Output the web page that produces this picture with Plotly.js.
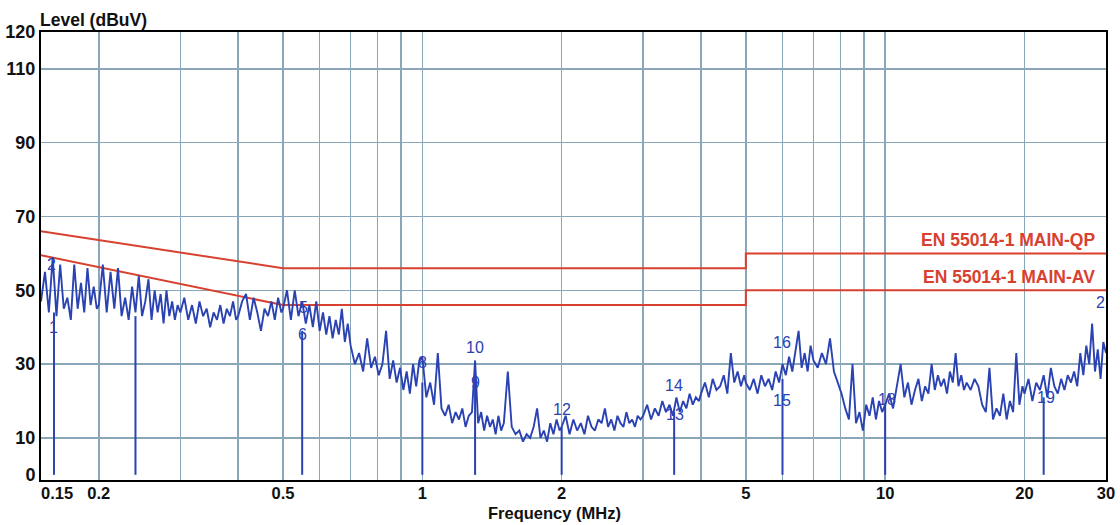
<!DOCTYPE html>
<html>
<head>
<meta charset="utf-8">
<script src="https://cdn.plot.ly/plotly-3.0.1.min.js"></script>
<style>
html,body{margin:0;padding:0;background:#fff;}
#chart{width:1120px;height:525px;}
</style>
</head>
<body>
<div id="chart"></div>
<script>
// ---- spectrum sweep (MHz) ----
var freqMHz = [
  0.150,0.153,0.156,0.159,0.162,0.165,0.168,0.171,0.174,0.177,0.180,0.183,0.186,0.189,0.192,0.195,0.198,
  0.200,0.204,0.208,0.212,0.216,0.220,0.224,0.228,0.232,0.236,0.240,0.244,0.248,0.252,0.256,0.260,0.264,0.268,0.272,0.276,0.280,0.284,0.288,0.292,0.296,
  0.300,0.306,0.312,0.318,0.324,0.330,0.336,0.342,0.348,0.354,0.360,0.366,0.372,0.378,0.384,0.390,0.396,
  0.400,0.408,0.416,0.424,0.432,0.440,0.448,0.456,0.464,0.472,0.480,0.488,0.496,
  0.50,0.51,0.52,0.53,0.54,0.55,0.56,0.57,0.58,0.59,0.60,0.61,0.62,0.63,0.64,0.65,0.66,0.67,0.68,0.69,
  0.700,0.715,0.730,0.745,0.760,0.775,0.790,0.805,0.820,0.835,0.850,0.865,0.880,0.895,0.910,0.925,0.940,0.955,0.970,0.985,
  1.00,1.02,1.04,1.06,1.08,1.10,1.12,1.14,1.16,1.18,1.20,1.22,1.24,1.26,1.28,1.30,1.32,1.34,1.36,1.38,1.40,1.42,1.44,1.46,1.48,
  1.50,1.53,1.56,1.59,1.62,1.65,1.68,1.71,1.74,1.77,1.80,1.83,1.86,1.89,1.92,1.95,1.98,
  2.00,2.04,2.08,2.12,2.16,2.20,2.24,2.28,2.32,2.36,2.40,2.44,2.48,2.52,2.56,2.60,2.64,2.68,2.72,2.76,2.80,2.84,2.88,2.92,2.96,
  3.00,3.06,3.12,3.18,3.24,3.30,3.36,3.42,3.48,3.54,3.60,3.66,3.72,3.78,3.84,3.90,3.96,
  4.00,4.08,4.16,4.24,4.32,4.40,4.48,4.56,4.64,4.72,4.80,4.88,4.96,
  5.0,5.1,5.2,5.3,5.4,5.5,5.6,5.7,5.8,5.9,6.0,6.1,6.2,6.3,6.4,6.5,6.6,6.7,6.8,6.9,
  7.00,7.15,7.30,7.45,7.60,7.75,7.90,8.05,8.20,8.35,8.50,8.65,8.80,8.95,9.10,9.25,9.40,9.55,9.70,9.85,
  10.0,10.2,10.4,10.6,10.8,11.0,11.2,11.4,11.6,11.8,12.0,12.2,12.4,12.6,12.8,13.0,13.2,13.4,13.6,13.8,14.0,14.2,14.4,14.6,14.8,
  15.0,15.3,15.6,15.9,16.2,16.5,16.8,17.1,17.4,17.7,18.0,18.3,18.6,18.9,19.2,19.5,19.8,
  20.0,20.4,20.8,21.2,21.6,22.0,22.4,22.8,23.2,23.6,24.0,24.4,24.8,25.2,25.6,26.0,26.4,26.8,27.2,27.6,28.0,28.4,28.8,29.2,29.6,30.0
];
// ---- measured level (dBuV) ----
var levelDbuV = [
  47,55,44,59,43,57,45,48,42,57,45,52,44,56,46,51,45,
  46,57,44,55,45,56,43,48,42,51,44,54,43,47,53,42,50,44,49,41,50,43,47,42,46,
  44,48,42,46,41,47,43,45,40,44,42,46,41,45,43,47,42,
  43,47,49,42,48,44,39,45,43,47,42,48,44,
  45,50,42,50,43,47,41,46,40,47,39,44,38,43,37,42,38,45,36,41,
  35,30,33,28,37,29,32,27,30,39,26,31,25,29,23,28,22,30,24,31,
  32,21,25,19,33,18,16,19,14,17,15,18,13,16,17,31,14,17,12,16,13,15,11,16,12,
  14,28,13,11,12,9,11,10,13,18,10,12,9,14,11,15,12,
  13,16,11,15,12,14,11,16,13,12,15,14,18,13,15,12,16,14,13,17,14,15,13,16,15,
  16,19,15,18,16,20,17,19,16,21,17,20,18,22,19,21,20,
  22,25,21,26,23,24,27,22,33,25,28,24,27,
  25,23,26,22,27,24,26,23,28,25,30,27,32,28,34,39,29,33,28,35,
  31,29,33,30,37,28,25,22,18,15,30,14,17,12,19,16,21,15,20,17,
  19,22,18,24,30,21,25,19,23,26,20,24,22,30,23,27,24,26,22,28,25,33,24,27,23,
  25,23,26,24,19,17,29,15,18,16,22,15,20,17,33,19,24,
  22,26,20,25,23,27,21,29,24,22,26,23,27,25,28,24,33,27,35,30,41,28,34,26,36,33
];
// ---- limit lines ----
var qpFreq = [0.15, 0.5, 5, 5, 30];
var qpLevel = [66, 56, 56, 60, 60];
var avFreq = [0.15, 0.5, 5, 5, 30];
var avLevel = [59.5, 46, 46, 50, 50];
var qpName = 'EN 55014-1 MAIN-QP';
var avName = 'EN 55014-1 MAIN-AV';
// ---- marker stems ----
var stemFreq = [0.16, 0.24, 0.55, 1.0, 1.3, 2.0, 3.5, 6.0, 10.0, 22.0];
var stemLevel = [44, 43, 39, 25, 26, 13, 17, 26, 19, 21];
// ---- marker numbers ----
var markText = ['1','2','5','6','8','10','9','12','14','13','16','15','18','19','2'];
var markFreq = [0.16,0.158,0.553,0.55,1.0,1.3,1.3,2.0,3.5,3.52,6.0,6.0,10.1,22.3,29.2];
var markLevel = [40,57,45.3,38,30.4,34.5,25,17.7,24.2,16.3,35.9,20.2,20.4,20.9,46.7];
// ---- axis ticks ----
var xTickVals = [0.15,0.2,0.5,1,2,5,10,20,30];
var xTickText = ['\u00a0\u00a0\u00a0\u00a0\u00a0\u00a0\u00a00.15','0.2','0.5','1','2','5','10','20','30'];
var xMinorGrid = [0.3,0.4,0.6,0.7,0.8,0.9,3,4,6,7,8,9];
var yTickVals = [0,10,30,50,70,90,110,120];
var yGrid = [10,30,50,70,90,110];

var BLUE = '#2a42b2';
var RED = '#d8402f';
var GRID = '#8aa7ba';
var FONT = 'Arial, "Liberation Sans", sans-serif';

var stemX = [], stemY = [];
for (var i = 0; i < stemFreq.length; i++) {
  stemX.push(stemFreq[i], stemFreq[i], null);
  stemY.push(0, stemLevel[i], null);
}

var traces = [
  {x: qpFreq, y: qpLevel, mode: 'lines', line: {color: RED, width: 2}, hoverinfo: 'skip'},
  {x: avFreq, y: avLevel, mode: 'lines', line: {color: RED, width: 2}, hoverinfo: 'skip'},
  {x: stemX, y: stemY, mode: 'lines', line: {color: BLUE, width: 2}, connectgaps: false, hoverinfo: 'skip'},
  {x: freqMHz, y: levelDbuV, mode: 'lines', line: {color: BLUE, width: 1.9}, hoverinfo: 'skip'}
];

var annotations = [
  {xref: 'paper', yref: 'paper', x: 0, y: 1, xanchor: 'left', yanchor: 'bottom', yshift: 0, xshift: -3,
   text: '<b>Level (dBuV)</b>', showarrow: false, font: {family: FONT, size: 17.5, color: '#111'}},
  {xref: 'paper', yref: 'paper', x: 0.4817, y: 0, xanchor: 'center', yanchor: 'middle', yshift: -33,
   text: '<b>Frequency (MHz)</b>', showarrow: false, font: {family: FONT, size: 16.5, color: '#111'}},
  {xref: 'paper', yref: 'y', x: 0.9915, y: qpLevel[qpLevel.length - 1], xanchor: 'right', yanchor: 'bottom', yshift: 1,
   text: '<b>' + qpName + '</b>', showarrow: false, font: {family: FONT, size: 17.5, color: RED}},
  {xref: 'paper', yref: 'y', x: 0.9915, y: avLevel[avLevel.length - 1], xanchor: 'right', yanchor: 'bottom', yshift: 1,
   text: '<b>' + avName + '</b>', showarrow: false, font: {family: FONT, size: 17.5, color: RED}}
];
for (var k = 0; k < markText.length; k++) {
  annotations.push({xref: 'x', yref: 'y', x: Math.log10(markFreq[k]), y: markLevel[k],
    xanchor: 'center', yanchor: 'middle', text: markText[k], showarrow: false,
    font: {family: FONT, size: 16, color: BLUE}});
}

var layout = {
  width: 1120, height: 525,
  margin: {l: 41, r: 14, t: 32, b: 45, pad: 0},
  paper_bgcolor: '#ffffff', plot_bgcolor: '#ffffff',
  showlegend: false,
  xaxis: {
    type: 'log', range: [Math.log10(0.15), Math.log10(30)],
    tickmode: 'array', tickvals: xTickVals, ticktext: xTickText, ticks: '',
    ticklabelstandoff: -3,
    tickfont: {family: FONT, size: 16.5, color: '#111', weight: 'bold'},
    showgrid: true, gridcolor: GRID, gridwidth: 1.5,
    minor: {tickmode: 'array', tickvals: xMinorGrid, showgrid: true, gridcolor: GRID, gridwidth: 1.5, ticks: ''},
    showline: true, linecolor: '#000', linewidth: 2, mirror: true, zeroline: false
  },
  yaxis: {
    range: [-1.4, 120],
    tickmode: 'array', tickvals: yTickVals, ticks: '',
    tickfont: {family: FONT, size: 18, color: '#111', weight: 'bold'},
    showgrid: false,
    minor: {tickmode: 'array', tickvals: yGrid, showgrid: true, gridcolor: GRID, gridwidth: 1.5, ticks: ''},
    showline: true, linecolor: '#000', linewidth: 2, mirror: true, zeroline: false
  },
  annotations: annotations
};

Plotly.newPlot('chart', traces, layout, {staticPlot: true, displayModeBar: false});
</script>
</body>
</html>
